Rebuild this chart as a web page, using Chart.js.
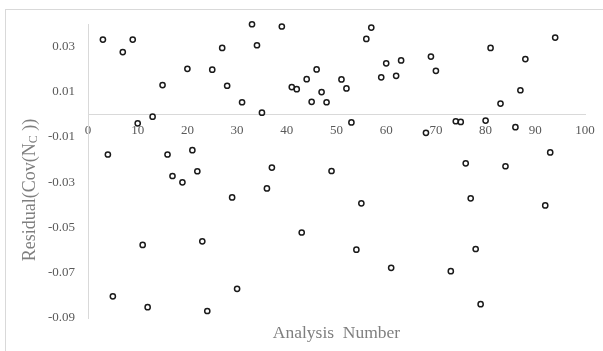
<!DOCTYPE html>
<html>
<head>
<meta charset="utf-8">
<script src="https://cdn.jsdelivr.net/npm/chart.js@4"></script>
<style>
  html, body { margin: 0; padding: 0; background: #fff; overflow: hidden; }
  #wrap { position: relative; width: 603px; height: 351px; }
</style>
</head>
<body>
<div id="wrap"><canvas id="chart" width="603" height="351"></canvas></div>
<script>
// Analysis number vs residual
const analysisNumbers = [
  3, 4, 5, 7, 9, 10, 11, 12, 13, 15, 16, 17, 19, 20, 21, 22, 23, 24, 25, 27,
  28, 29, 30, 31, 33, 34, 35, 36, 37, 39, 41, 42, 43, 44, 45, 46, 47, 48, 49, 51,
  52, 53, 54, 55, 56, 57, 59, 60, 61, 62, 63, 68, 69, 70, 73, 74, 75, 76, 77, 78,
  79, 80, 81, 83, 84, 86, 87, 88, 92, 93, 94
];
const residuals = [
  0.0331, -0.0177, -0.0804, 0.0276, 0.0331, -0.0039, -0.0577, -0.0852, -0.0010, 0.0130,
  -0.0177, -0.0272, -0.0300, 0.0202, -0.0158, -0.0251, -0.0561, -0.0869, 0.0198, 0.0294,
  0.0127, -0.0367, -0.0771, 0.0054, 0.0399, 0.0306, 0.0008, -0.0327, -0.0235, 0.0389,
  0.0121, 0.0112, -0.0522, 0.0156, 0.0056, 0.0199, 0.0099, 0.0054, -0.0250, 0.0155,
  0.0115, -0.0035, -0.0598, -0.0393, 0.0334, 0.0384, 0.0164, 0.0226, -0.0678, 0.0171,
  0.0239, -0.0081, 0.0256, 0.0193, -0.0693, -0.0030, -0.0033, -0.0216, -0.0371, -0.0595,
  -0.0839, -0.0027, 0.0294, 0.0048, -0.0229, -0.0056, 0.0107, 0.0245, -0.0402, -0.0168,
  0.0340
];
const xTicks = [0, 10, 20, 30, 40, 50, 60, 70, 80, 90, 100];
const yTicks = [-0.09, -0.07, -0.05, -0.03, -0.01, 0.01, 0.03];
const xTitle = 'Analysis  Number';
const yTitle = ['Residual(Cov(N', 'C', ' ))'];

const points = analysisNumbers.map((x, i) => ({ x: x, y: residuals[i] }));

const fontFamily = '"Liberation Serif", "Times New Roman", serif';
const tickColor = '#595959';
const titleColor = '#7f7f7f';
const lineColor = '#d9d9d9';

// Outer frame plus the two axis titles (the y title has a subscript)
const framePlugin = {
  id: 'framePlugin',
  beforeDraw(chart) {
    const ctx = chart.ctx;
    ctx.save();
    ctx.strokeStyle = lineColor;
    ctx.lineWidth = 1;
    ctx.strokeRect(5.5, 9.5, 700, 500);
    ctx.restore();
  },
  afterDraw(chart) {
    const ctx = chart.ctx;
    const area = chart.chartArea;
    ctx.save();
    ctx.fillStyle = titleColor;
    ctx.textBaseline = 'middle';

    // x title
    ctx.font = '17.5px ' + fontFamily;
    ctx.textAlign = 'center';
    ctx.fillText(xTitle, (area.left + area.right) / 2, 333);

    // y title, rotated
    ctx.translate(30, 190);
    ctx.rotate(-Math.PI / 2);
    ctx.textAlign = 'left';
    const mainFont = '18px ' + fontFamily;
    const subFont = '12px ' + fontFamily;
    ctx.font = mainFont;
    const w1 = ctx.measureText(yTitle[0]).width;
    const w3 = ctx.measureText(yTitle[2]).width;
    ctx.font = subFont;
    const w2 = ctx.measureText(yTitle[1]).width;
    let x0 = -(w1 + w2 + w3) / 2;
    ctx.font = mainFont;
    ctx.fillText(yTitle[0], x0, 0);
    ctx.font = subFont;
    ctx.fillText(yTitle[1], x0 + w1, 4);
    ctx.font = mainFont;
    ctx.fillText(yTitle[2], x0 + w1 + w2, 0);
    ctx.restore();
  }
};

new Chart(document.getElementById('chart').getContext('2d'), {
  type: 'scatter',
  data: {
    datasets: [{
      label: 'Residual',
      data: points,
      pointStyle: 'circle',
      pointRadius: 2.6,
      pointBorderWidth: 1.5,
      pointBorderColor: '#1a1a1a',
      pointBackgroundColor: 'rgba(0,0,0,0)',
      showLine: false,
      clip: false,
    }]
  },
  options: {
    responsive: false,
    animation: false,
    layout: {
      padding: { left: 0, top: 24, right: 18, bottom: 33 }
    },
    plugins: {
      legend: { display: false },
      tooltip: { enabled: false },
    },
    scales: {
      x: {
        type: 'linear',
        position: { y: 0 },
        min: 0,
        max: 100,
        grid: { display: true, drawOnChartArea: false, drawTicks: false, color: lineColor },
        border: { display: true, color: lineColor, width: 1 },
        afterBuildTicks: scale => { scale.ticks = xTicks.map(v => ({ value: v })); },
        ticks: {
          color: tickColor,
          font: { family: fontFamily, size: 13 },
          padding: 8,
          maxRotation: 0,
          callback: v => String(v),
        },
      },
      y: {
        type: 'linear',
        position: 'left',
        min: -0.09,
        max: 0.04,
        grid: { display: true, drawOnChartArea: false, drawTicks: false, color: lineColor },
        border: { display: true, color: lineColor, width: 1 },
        afterFit: scale => { scale.width = 88; },
        afterBuildTicks: scale => { scale.ticks = yTicks.map(v => ({ value: v })); },
        ticks: {
          color: tickColor,
          font: { family: fontFamily, size: 13 },
          padding: 13,
          callback: v => v.toFixed(2),
        },
      },
    },
  },
  plugins: [framePlugin],
});
</script>
</body>
</html>
